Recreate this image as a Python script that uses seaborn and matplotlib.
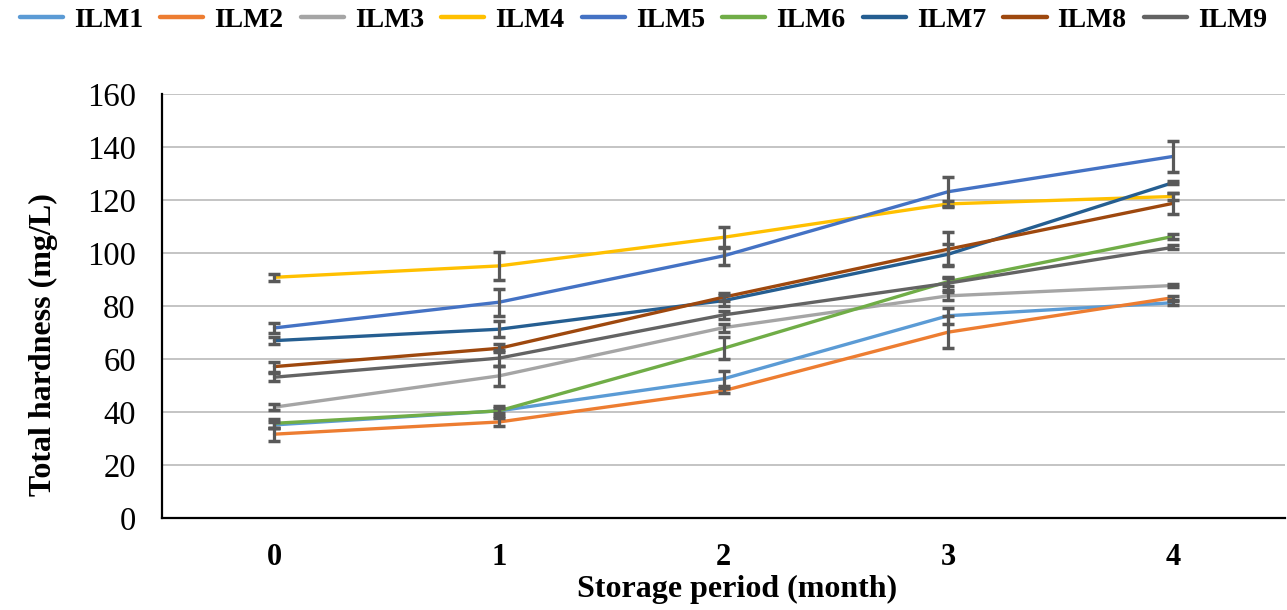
import pandas as pd
import seaborn as sns
import matplotlib.pyplot as plt

# --- Data ---
months = [0, 1, 2, 3, 4]
samples = ['ILM1', 'ILM2', 'ILM3', 'ILM4', 'ILM5', 'ILM6', 'ILM7', 'ILM8', 'ILM9']

ilm1 = [35.1, 40.4, 52.5, 76.3, 81.2]
ilm2 = [31.6, 36.2, 48.0, 70.1, 83.1]
ilm3 = [41.8, 53.6, 71.8, 83.8, 87.7]
ilm4 = [90.8, 95.1, 105.9, 118.5, 121.3]
ilm5 = [71.7, 81.4, 98.9, 123.1, 136.4]
ilm6 = [35.7, 40.4, 64.0, 89.2, 106.2]
ilm7 = [66.9, 71.2, 82.0, 99.5, 126.5]
ilm8 = [57.1, 64.0, 83.3, 101.4, 118.7]
ilm9 = [53.1, 60.3, 76.6, 88.6, 102.1]

err1 = [1.0, 1.0, 2.9, 3.0, 0.8]
err2 = [2.5, 1.5, 1.0, 6.0, 0.8]
err3 = [1.2, 3.8, 1.5, 1.5, 0.5]
err4 = [1.3, 5.3, 4.0, 1.2, 1.5]
err5 = [2.0, 5.1, 3.5, 5.4, 6.0]
err6 = [1.8, 2.0, 4.2, 1.5, 0.8]
err7 = [1.4, 3.0, 2.0, 4.0, 0.5]
err8 = [1.9, 1.5, 1.5, 6.4, 4.0]
err9 = [1.4, 3.0, 1.5, 2.5, 0.8]

colors = ['#5B9BD5', '#ED7D31', '#A5A5A5', '#FFC000', '#4472C4',
          '#70AD47', '#255E91', '#9E480E', '#636363']

values = [ilm1, ilm2, ilm3, ilm4, ilm5, ilm6, ilm7, ilm8, ilm9]
errors = [err1, err2, err3, err4, err5, err6, err7, err8, err9]

rows = []
for name, vals, errs in zip(samples, values, errors):
    for m, v, e in zip(months, vals, errs):
        rows.append({'month': m, 'hardness': v, 'err': e, 'sample': name})
df = pd.DataFrame(rows)

# --- Plot ---
sns.set_style('white')
plt.rcParams['font.family'] = ['Liberation Serif', 'DejaVu Serif']
plt.rcParams['text.color'] = 'black'
plt.rcParams['xtick.color'] = 'black'
plt.rcParams['ytick.color'] = 'black'
plt.rcParams['axes.labelcolor'] = 'black'

fig = plt.figure(figsize=(12.87, 6.1), dpi=100)
ax = fig.add_axes([0.126, 0.151, 0.8725, 0.695])

sns.lineplot(data=df, x='month', y='hardness', hue='sample', hue_order=samples,
             palette=colors, linewidth=2.4, ax=ax, legend=True)

for name, vals, errs in zip(samples, values, errors):
    ax.errorbar(months, vals, yerr=errs, fmt='none', ecolor='#595959',
                elinewidth=2.3, capsize=4.5, capthick=2.5, zorder=3)

ax.set_xlim(-0.5, 4.5)
ax.set_ylim(0, 160)
ax.set_yticks(range(0, 161, 20))
ax.set_xticks(months)
ax.yaxis.grid(True, color='#BFBFBF', linewidth=1.3)
ax.xaxis.grid(False)
ax.set_axisbelow(True)

for side in ['top', 'right']:
    ax.spines[side].set_visible(False)
for side in ['left', 'bottom']:
    ax.spines[side].set_color('black')
    ax.spines[side].set_linewidth(1.6)

ax.tick_params(axis='y', labelsize=23.5, length=0, pad=19)
ax.tick_params(axis='x', labelsize=22, length=0, pad=18)
for lbl in ax.get_xticklabels():
    lbl.set_fontweight('bold')

ax.set_xlabel('Storage period (month)', fontsize=23, fontweight='bold')
ax.xaxis.set_label_coords(0.512, -0.135)
ax.set_ylabel('Total hardness (mg/L)', fontsize=23, fontweight='bold')
ax.yaxis.set_label_coords(-0.093, 0.41)

handles, labels = ax.get_legend_handles_labels()
for h in handles:
    h.set_linewidth(3.2)
ax.get_legend().remove()
fig.legend(handles, labels, loc='center', bbox_to_anchor=(0.5, 0.967), ncol=9,
           frameon=False, prop={'weight': 'bold', 'size': 20},
           handlelength=1.55, handletextpad=0.4, columnspacing=0.62)

fig.savefig('out.png', dpi=100)
